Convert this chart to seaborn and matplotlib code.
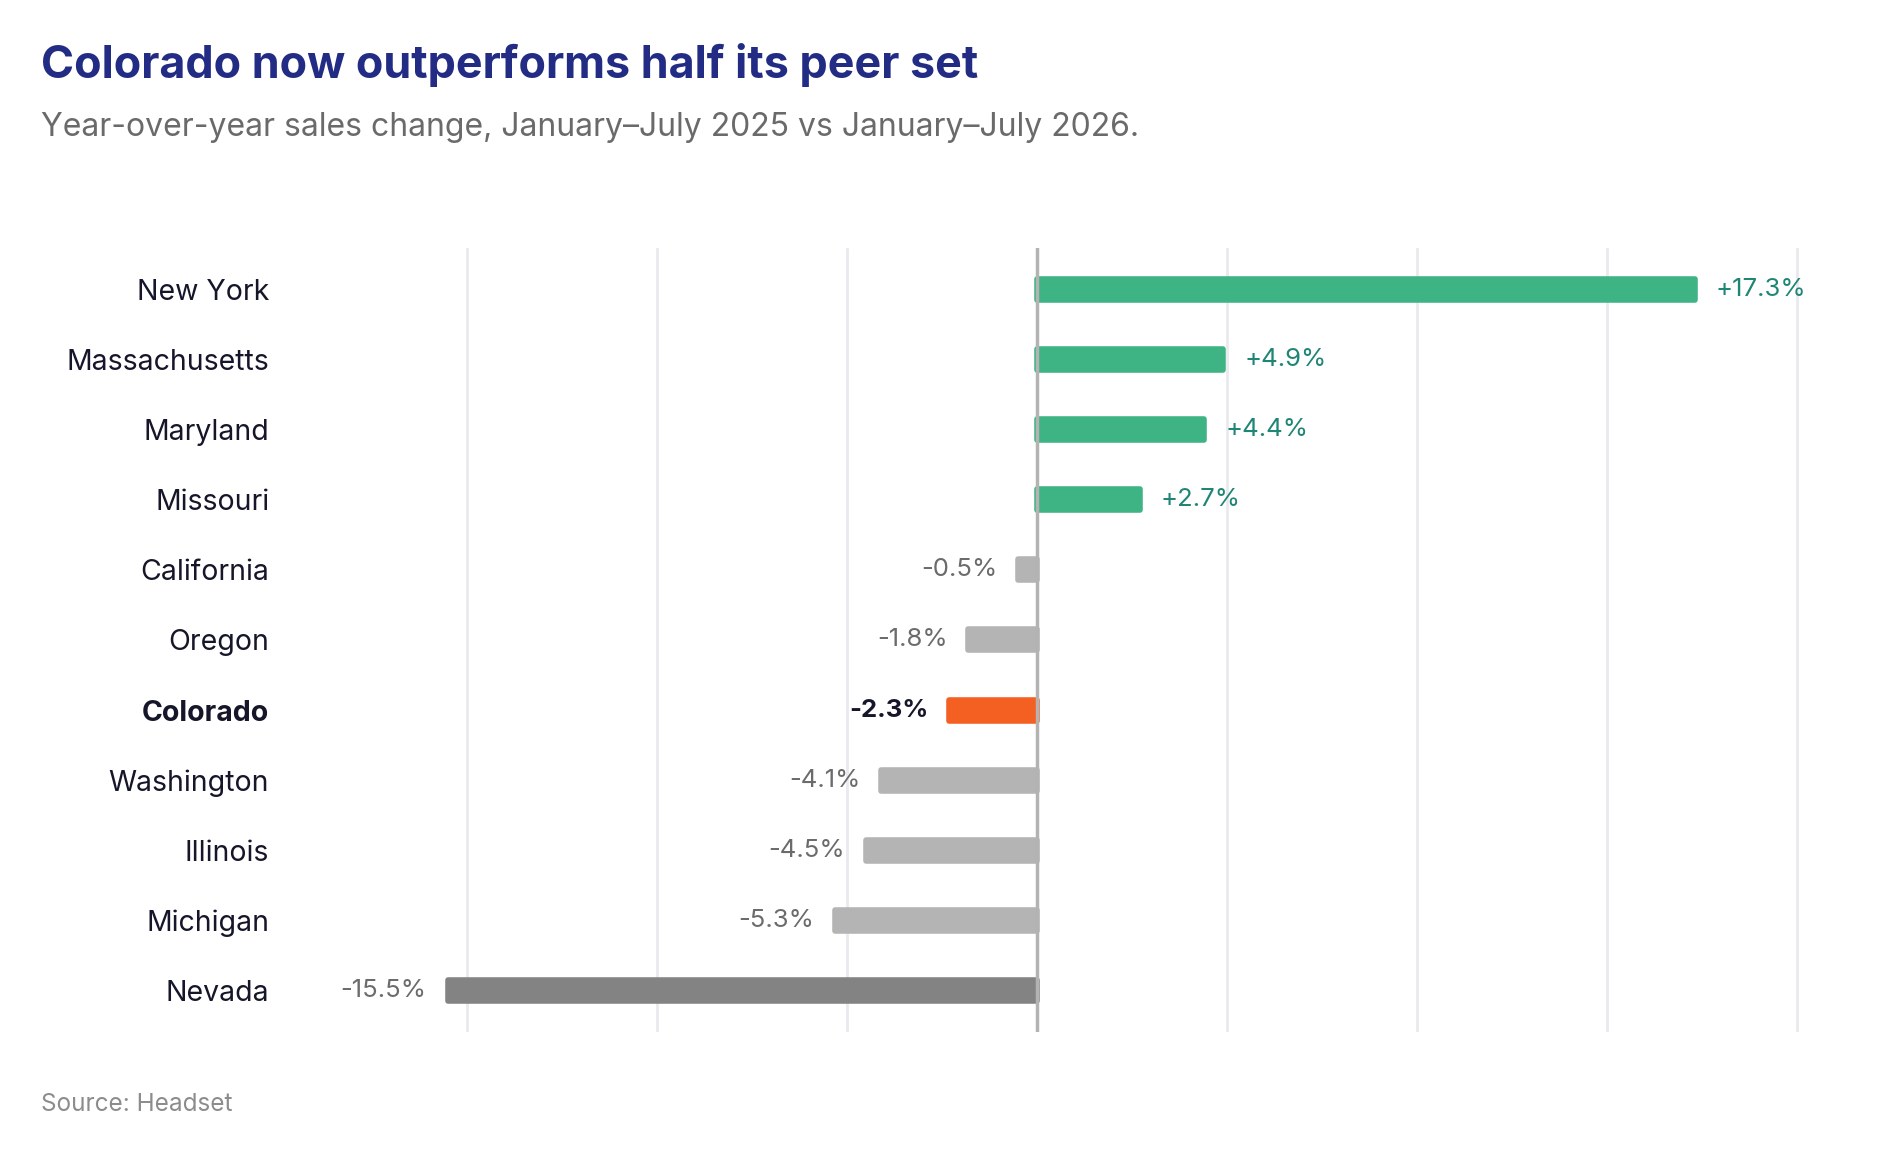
import matplotlib.pyplot as plt
import pandas as pd
import seaborn as sns

states = ["New York", "Massachusetts", "Maryland", "Missouri", "California", "Oregon",
          "Colorado", "Washington", "Illinois", "Michigan", "Nevada"]
changes = [17.3, 4.9, 4.4, 2.7, -0.5, -1.8, -2.3, -4.1, -4.5, -5.3, -15.5]

GREEN = "#3eb383"
GREEN_TXT = "#1f8575"
GREY = "#b4b4b4"
DARK_GREY = "#838383"
ORANGE = "#f45f22"
NAVY = "#232c84"
INK = "#16162a"

colors = {}
for s, v in zip(states, changes):
    if s == "Colorado":
        colors[s] = ORANGE
    elif s == "Nevada":
        colors[s] = DARK_GREY
    elif v > 0:
        colors[s] = GREEN
    else:
        colors[s] = GREY

df = pd.DataFrame({"state": states, "change": changes})

sns.set_style("white")
plt.rcParams["font.family"] = ["Inter", "DejaVu Sans"]

fig = plt.figure(figsize=(18.9, 11.57), dpi=100)
ax = fig.add_axes([0.1865, 0.108, 0.7705, 0.6777])

sns.barplot(data=df, y="state", x="change", hue="state", palette=colors, saturation=1,
            order=states, legend=False, width=0.3, orient="h", ax=ax, zorder=2)

# rounded ends
for p in ax.patches:
    p.set_edgecolor(p.get_facecolor())
    p.set_linewidth(4)
    p.set_joinstyle("round")

ax.set_xlim(-18, 20.3)
ax.set_ylim(10.6, -0.6)
ax.set_xticks([-15, -10, -5, 0, 5, 10, 15, 20])
ax.set_xticklabels([])
ax.grid(axis="x", color="#e9e9ef", linewidth=2, zorder=0)
ax.grid(axis="y", visible=False)
ax.axvline(0, color="#b3b3b3", linewidth=2.5, zorder=3)
for sp in ax.spines.values():
    sp.set_visible(False)
ax.tick_params(axis="both", length=0)
ax.tick_params(axis="y", pad=60, labelsize=20.5, labelcolor=INK)
ax.set_xlabel("")
ax.set_ylabel("")

for lbl in ax.get_yticklabels():
    if lbl.get_text() == "Colorado":
        lbl.set_fontweight("bold")

for i, (s, v) in enumerate(zip(states, changes)):
    txt = f"{v:+.1f}%"
    if v > 0:
        ax.annotate(txt, (v, i), xytext=(15, 0), textcoords="offset points",
                    ha="left", va="center", fontsize=18.5, color=GREEN_TXT)
    else:
        bold = s == "Colorado"
        ax.annotate(txt, (v, i), xytext=(-15, 0), textcoords="offset points",
                    ha="right", va="center", fontsize=18.5,
                    color=INK if bold else "#6b6b6b",
                    fontweight="bold" if bold else "normal")

fig.text(0.0217, 0.963, "Colorado now outperforms half its peer set",
         fontsize=32.3, fontweight="bold", color=NAVY, ha="left", va="top")
fig.text(0.0217, 0.903, "Year-over-year sales change, January\u2013July 2025 vs January\u2013July 2026.",
         fontsize=23, color="#6a6a6a", ha="left", va="top")
fig.text(0.0217, 0.045, "Source: Headset", fontsize=17.5, color="#8c8c8c", ha="left", va="center")

fig.savefig("out.png", dpi=100, facecolor="white")
